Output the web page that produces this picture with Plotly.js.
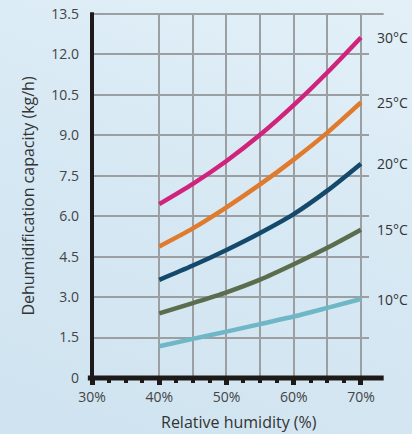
<!DOCTYPE html>
<html>
<head>
<meta charset="utf-8">
<script src="https://cdn.plot.ly/plotly-3.0.1.min.js"></script>
<style>
  html, body { margin: 0; padding: 0; }
  body { width: 412px; height: 434px; background: linear-gradient(200deg, #e3f0f8 0%, #d6e8f3 50%, #cfe3f0 100%); }
  #chart { width: 412px; height: 434px; }
</style>
</head>
<body>
<div id="chart"></div>
<script>
// Data
const humidity = [40, 45, 50, 55, 60, 65, 70];
const series = [
  { name: '30°C', color: '#d0247c', values: [6.45, 7.2, 8.05, 9.02, 10.12, 11.33, 12.63] },
  { name: '25°C', color: '#e07a2c', values: [4.88, 5.55, 6.33, 7.18, 8.1, 9.1, 10.22] },
  { name: '20°C', color: '#14496c', values: [3.64, 4.17, 4.75, 5.38, 6.08, 6.95, 7.95] },
  { name: '15°C', color: '#5b6d4c', values: [2.4, 2.78, 3.18, 3.65, 4.22, 4.83, 5.5] },
  { name: '10°C', color: '#6fb7c7', values: [1.18, 1.45, 1.72, 2.0, 2.28, 2.6, 2.93] }
];
const xTickVals = [30, 40, 50, 60, 70];
const xTickText = ['30%', '40%', '50%', '60%', '70%'];
const xGridVals = [45, 55, 65];
const xMinorTicks = [32.5, 35, 37.5, 42.5, 45, 47.5, 52.5, 55, 57.5, 62.5, 65, 67.5];
const yTickVals = [0, 1.5, 3, 4.5, 6, 7.5, 9, 10.5, 12, 13.5];
const yTickText = ['0', '1.5', '3.0', '4.5', '6.0', '7.5', '9.0', '10.5', '12.0', '13.5'];

const traces = series.map(s => ({
  type: 'scatter', mode: 'lines', x: humidity, y: s.values, name: s.name,
  line: { color: s.color, width: 4.5, shape: 'spline', smoothing: 0.8 }, cliponaxis: false,
  hoverinfo: 'skip'
}));
// invisible trace for the secondary tick axis
traces.push({ type: 'scatter', x: [30], y: [0], xaxis: 'x2', mode: 'markers', marker: { opacity: 0 }, showlegend: false, hoverinfo: 'skip' });

const annotations = series.map(s => ({
  xref: 'x', yref: 'y', x: humidity[humidity.length - 1], y: s.values[s.values.length - 1],
  text: s.name, showarrow: false, xanchor: 'left', yanchor: 'middle', xshift: 14,
  font: { family: 'Open Sans, sans-serif', size: 14, color: '#333' }
}));
annotations.push({
  xref: 'paper', yref: 'paper', x: 0.53, y: 0, yshift: -57, yanchor: 'bottom',
  text: 'Relative humidity (%)', showarrow: false,
  font: { family: 'Open Sans, sans-serif', size: 16, color: '#333' }
});

const shapes = [
  // extended x axis line
  { type: 'line', xref: 'paper', yref: 'paper', x0: -0.015, x1: 1.053, y0: 0, y1: 0, line: { color: '#1e1a1a', width: 5 }, layer: 'above' },
  // extended top grid line
  { type: 'line', xref: 'paper', yref: 'paper', x0: 0, x1: 1.053, y0: 1, y1: 1, line: { color: '#9b9fa1', width: 2 }, layer: 'below' },
  // y axis line
  { type: 'line', xref: 'paper', yref: 'paper', x0: 0, x1: 0, y0: 0, y1: 1.005, line: { color: '#1e1a1a', width: 4 }, layer: 'above' }
];

const layout = {
  width: 412, height: 434,
  margin: { l: 92, r: 43, t: 14, b: 56 },
  paper_bgcolor: 'rgba(0,0,0,0)', plot_bgcolor: 'rgba(0,0,0,0)',
  showlegend: false,
  font: { family: 'Open Sans, sans-serif', color: '#444', size: 14 },
  xaxis: {
    range: [30, 71.2], tickmode: 'array', tickvals: xTickVals, ticktext: xTickText,
    showgrid: true, gridcolor: '#9b9fa1', gridwidth: 2,
    ticks: 'outside', ticklen: 6, tickwidth: 5, tickcolor: '#1e1a1a',
    showline: false, zeroline: false, fixedrange: true,
    minor: { tickmode: 'array', tickvals: xGridVals, showgrid: true, gridcolor: '#9b9fa1', gridwidth: 2, ticks: '' },
    tickfont: { size: 14, color: '#444' }
  },
  xaxis2: {
    overlaying: 'x', anchor: 'y', side: 'bottom', range: [30, 71.2],
    tickmode: 'array', tickvals: xMinorTicks, showticklabels: false,
    ticks: 'outside', ticklen: 4, tickwidth: 4, tickcolor: '#1e1a1a',
    showgrid: false, zeroline: false, showline: false, fixedrange: true
  },
  yaxis: {
    range: [0, 13.5], tickmode: 'array', tickvals: yTickVals, ticktext: yTickText,
    showgrid: true, gridcolor: '#9b9fa1', gridwidth: 2,
    zeroline: false, showline: false, ticks: '', ticklabelstandoff: 12, fixedrange: true,
    tickfont: { size: 14, color: '#444' },
    title: { text: 'Dehumidification capacity (kg/h)', standoff: 12, font: { size: 16, color: '#333' } }
  },
  annotations: annotations,
  shapes: shapes
};

Plotly.newPlot('chart', traces, layout, { displayModeBar: false, staticPlot: true });
</script>
</body>
</html>
